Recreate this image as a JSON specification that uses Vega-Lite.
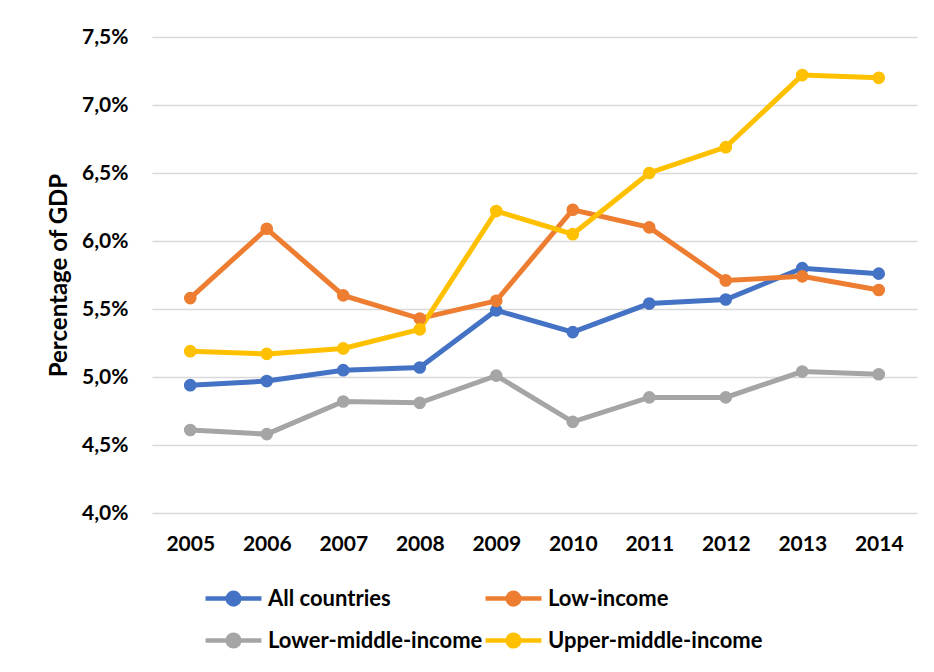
{
  "$schema": "https://vega.github.io/schema/vega-lite/v6.json",
  "autosize": "none",
  "width": 765,
  "height": 476,
  "padding": {"left": 152, "top": 37, "right": 17, "bottom": 159},
  "background": "white",
  "data": {"values": [
    {"year": "2005", "series": "All countries", "value": 4.94},
    {"year": "2006", "series": "All countries", "value": 4.97},
    {"year": "2007", "series": "All countries", "value": 5.05},
    {"year": "2008", "series": "All countries", "value": 5.07},
    {"year": "2009", "series": "All countries", "value": 5.49},
    {"year": "2010", "series": "All countries", "value": 5.33},
    {"year": "2011", "series": "All countries", "value": 5.54},
    {"year": "2012", "series": "All countries", "value": 5.57},
    {"year": "2013", "series": "All countries", "value": 5.80},
    {"year": "2014", "series": "All countries", "value": 5.76},
    {"year": "2005", "series": "Low-income", "value": 5.58},
    {"year": "2006", "series": "Low-income", "value": 6.09},
    {"year": "2007", "series": "Low-income", "value": 5.60},
    {"year": "2008", "series": "Low-income", "value": 5.43},
    {"year": "2009", "series": "Low-income", "value": 5.56},
    {"year": "2010", "series": "Low-income", "value": 6.23},
    {"year": "2011", "series": "Low-income", "value": 6.10},
    {"year": "2012", "series": "Low-income", "value": 5.71},
    {"year": "2013", "series": "Low-income", "value": 5.74},
    {"year": "2014", "series": "Low-income", "value": 5.64},
    {"year": "2005", "series": "Lower-middle-income", "value": 4.61},
    {"year": "2006", "series": "Lower-middle-income", "value": 4.58},
    {"year": "2007", "series": "Lower-middle-income", "value": 4.82},
    {"year": "2008", "series": "Lower-middle-income", "value": 4.81},
    {"year": "2009", "series": "Lower-middle-income", "value": 5.01},
    {"year": "2010", "series": "Lower-middle-income", "value": 4.67},
    {"year": "2011", "series": "Lower-middle-income", "value": 4.85},
    {"year": "2012", "series": "Lower-middle-income", "value": 4.85},
    {"year": "2013", "series": "Lower-middle-income", "value": 5.04},
    {"year": "2014", "series": "Lower-middle-income", "value": 5.02},
    {"year": "2005", "series": "Upper-middle-income", "value": 5.19},
    {"year": "2006", "series": "Upper-middle-income", "value": 5.17},
    {"year": "2007", "series": "Upper-middle-income", "value": 5.21},
    {"year": "2008", "series": "Upper-middle-income", "value": 5.35},
    {"year": "2009", "series": "Upper-middle-income", "value": 6.22},
    {"year": "2010", "series": "Upper-middle-income", "value": 6.05},
    {"year": "2011", "series": "Upper-middle-income", "value": 6.50},
    {"year": "2012", "series": "Upper-middle-income", "value": 6.69},
    {"year": "2013", "series": "Upper-middle-income", "value": 7.22},
    {"year": "2014", "series": "Upper-middle-income", "value": 7.20}
  ]},
  "mark": {"type": "line", "strokeWidth": 5, "point": {"filled": true, "size": 160, "opacity": 1}},
  "encoding": {
    "x": {
      "field": "year", "type": "ordinal",
      "scale": {"paddingInner": 0, "paddingOuter": 0},
      "axis": {"title": null, "labelAngle": 0, "domain": false, "ticks": false, "grid": false,
               "labelPadding": 20, "labelFontSize": 21, "labelFontWeight": "bold", "labelFont": "Lato", "labelColor": "black"}
    },
    "y": {
      "field": "value", "type": "quantitative",
      "scale": {"domain": [4.0, 7.5], "nice": false, "zero": false},
      "axis": {"title": "Percentage of GDP", "values": [4.0, 4.5, 5.0, 5.5, 6.0, 6.5, 7.0, 7.5],
               "labelExpr": "replace(format(datum.value, '.1f'), '.', ',') + '%'",
               "domain": false, "ticks": false, "labelPadding": 24,
               "labelFontSize": 21, "labelFontWeight": "bold", "labelFont": "Lato", "labelColor": "black",
               "titleFontSize": 24, "titleFontWeight": "bold", "titleFont": "Lato", "titleColor": "black", "titlePadding": 10,
               "gridColor": "#D9D9D9", "gridWidth": 1.5}
    },
    "color": {
      "field": "series", "type": "nominal",
      "scale": {"domain": ["All countries", "Low-income", "Lower-middle-income", "Upper-middle-income"],
                "range": ["#4472C4", "#ED7D31", "#A5A5A5", "#FFC000"]},
      "legend": {
        "title": null, "orient": "none", "legendX": 57.5, "legendY": 537.5, "columns": 2, "direction": "horizontal",
        "gridAlign": "all", "columnPadding": -7, "rowPadding": 3, "labelLimit": 400,
        "labelFontSize": 22, "labelFontWeight": "bold", "labelFont": "Lato", "labelColor": "black", "labelOffset": 10.5,
        "symbolType": "M -1.3 0 L 1.3 0 M -0.27 0 A 0.27 0.27 0 1 1 0.27 0 A 0.27 0.27 0 1 1 -0.27 0 Z",
        "symbolSize": 1849, "symbolStrokeWidth": 4.5,
        "encode": {"symbols": {"update": {"fill": {"scale": "color", "field": "value"}, "stroke": {"scale": "color", "field": "value"}, "opacity": {"value": 1}}}}
      }
    }
  },
  "config": {"view": {"stroke": null}}
}
